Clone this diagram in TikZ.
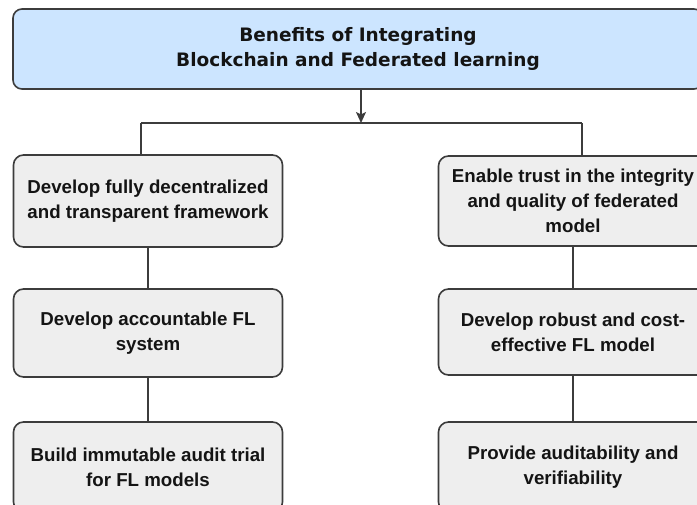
\documentclass[tikz,border=0pt]{standalone}
\usepackage{fontspec}
\setmainfont{Liberation Sans}
\newfontfamily\titlefont{DejaVu Sans}
\usetikzlibrary{arrows.meta}
\definecolor{headfill}{HTML}{CCE5FF}
\definecolor{boxfill}{HTML}{EEEEEE}
\definecolor{edgegray}{HTML}{3C3C3C}
\definecolor{inkcol}{HTML}{141414}
\tikzset{
  x=1pt, y=-1pt,
  headbox/.style={draw=edgegray, fill=headfill, line width=1.6pt, rounded corners=9pt,
    minimum width=690pt, minimum height=80pt, inner sep=0pt, align=center, text=inkcol,
    font=\titlefont\bfseries\fontsize{18.5}{25}\selectfont},
  stepbox/.style={draw=edgegray, fill=boxfill, line width=1.6pt, rounded corners=10pt,
    minimum width=269pt, inner sep=0pt, align=center, text=inkcol,
    font=\bfseries\fontsize{18.7}{25}\selectfont},
  link/.style={draw=edgegray, line width=1.6pt},
}
\begin{document}
\begin{tikzpicture}
\useasboundingbox (0,0) rectangle (697,504);
\clip (0,0) rectangle (697,504);

% header
\node[headbox] (head) at (358,49) {Benefits of Integrating\\Blockchain and Federated learning};

% left column
\node[stepbox, minimum height=92pt] (l1) at (148,201) {Develop fully decentralized\\and transparent framework};
\node[stepbox, minimum height=88pt] (l2) at (148,333) {Develop accountable FL\\system};
\node[stepbox, minimum height=90pt] (l3) at (148,467) {Build immutable audit trial\\for FL models};

% right column
\node[stepbox, minimum height=90pt] (r1) at (573,201) {Enable trust in the integrity\\and quality of federated\\model};
\node[stepbox, minimum height=86pt] (r2) at (573,332) {Develop robust and cost-\\effective FL model};
\node[stepbox, minimum height=90pt] (r3) at (573,467) {Provide auditability and\\verifiability};

% branching
\coordinate (split) at (361,123);
\coordinate (bl) at (141,123);
\coordinate (br) at (582,123);
\draw[link, -{Stealth[length=11pt,width=10pt,inset=2.5pt]}] (head.south -| split) -- (split);
\draw[link] (bl) -- (br);
\draw[link] (bl) -- (bl |- l1.north);
\draw[link] (br) -- (br |- r1.north);

% chains
\draw[link] (l1) -- (l2);
\draw[link] (l2) -- (l3);
\draw[link] (r1) -- (r2);
\draw[link] (r2) -- (r3);
\end{tikzpicture}
\end{document}
